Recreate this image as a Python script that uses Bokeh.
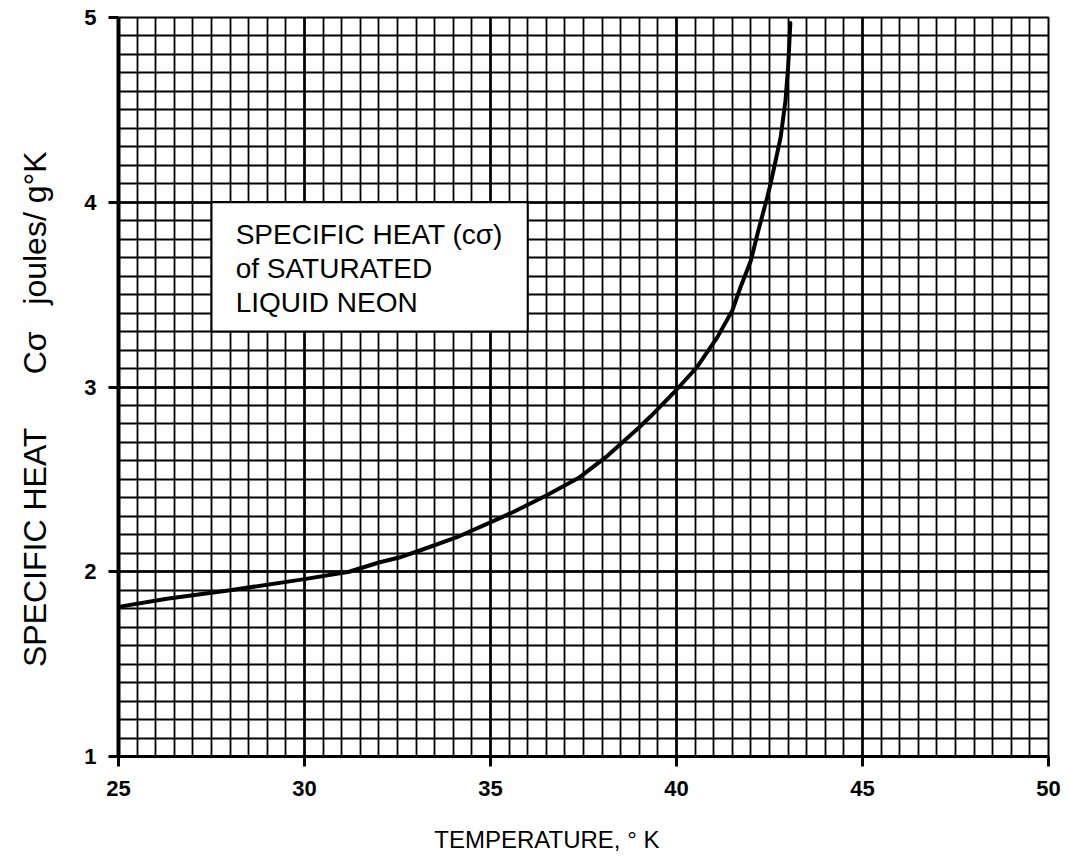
from bokeh.core.properties import value
from bokeh.embed import file_html
from bokeh.models import ColumnDataSource, Range1d, SingleIntervalTicker
from bokeh.plotting import figure
from bokeh.resources import INLINE

# Specific heat of saturated liquid neon, c_sigma (joules / g K) vs temperature (K)
temperature_k = [25.0, 26.3, 28.0, 30.0, 31.2, 32.0, 32.6, 33.1, 34.1, 35.1,
                 35.6, 36.5, 37.4, 38.1, 39.0, 39.3, 40.0, 40.55, 41.1, 41.5,
                 41.72, 42.0, 42.2, 42.44, 42.55, 42.8, 42.93, 43.0, 43.06]
specific_heat = [1.81, 1.854, 1.90, 1.96, 2.00, 2.05, 2.08, 2.115, 2.187, 2.277,
                 2.322, 2.413, 2.512, 2.620, 2.782, 2.84, 2.985, 3.107, 3.270, 3.414,
                 3.540, 3.685, 3.847, 4.027, 4.118, 4.352, 4.551, 4.731, 4.97]

x_limits = [25, 50]
y_limits = [1, 5]

NBSP = "\u00a0"
# trailing no-break spaces nudge the centred axis titles off the axis midpoint
x_title = "TEMPERATURE, \u00b0 K" + NBSP * 11
y_title = ("SPECIFIC HEAT" + NBSP * 6 + "C\u03c3" + NBSP * 3
           + "joules/ g\u00b0K" + NBSP * 5)

note_lines = ["SPECIFIC HEAT (c\u03c3)", "of SATURATED", "LIQUID NEON"]
note_box = dict(left=27.5, right=36.0, bottom=3.3, top=4.0)
note_x = 28.15
note_y = [3.825, 3.641, 3.457]

FONT = "Liberation Sans"

p = figure(
    frame_width=930, frame_height=739,
    x_range=Range1d(*x_limits), y_range=Range1d(*y_limits),
    min_border_left=118, min_border_right=21,
    min_border_top=17, min_border_bottom=105,
    output_backend="svg", toolbar_location=None,
    background_fill_color="white", border_fill_color="white",
)

xticker = SingleIntervalTicker(interval=5, num_minor_ticks=10)
yticker = SingleIntervalTicker(interval=1, num_minor_ticks=10)

# graph-paper grid
for grid, ticker in ((p.xgrid, xticker), (p.ygrid, yticker)):
    grid.ticker = ticker
    grid.grid_line_color = "black"
    grid.grid_line_width = 2.6
    grid.grid_line_alpha = 1.0
    grid.minor_grid_line_color = "black"
    grid.minor_grid_line_width = 1.8
    grid.minor_grid_line_alpha = 1.0

p.outline_line_color = "black"
p.outline_line_width = 2

for axis, ticker in ((p.xaxis, xticker), (p.yaxis, yticker)):
    axis.ticker = ticker
    axis.axis_line_color = "black"
    axis.major_tick_line_color = "black"
    axis.major_tick_line_width = 3
    axis.major_tick_in = 0
    axis.major_tick_out = 10
    axis.minor_tick_in = 0
    axis.minor_tick_out = 0
    axis.major_label_text_font = FONT
    axis.major_label_text_font_style = "bold"
    axis.major_label_text_font_size = "22px"
    axis.major_label_text_color = "black"
    axis.axis_label_text_font = FONT
    axis.axis_label_text_font_style = "normal"
    axis.axis_label_text_color = "black"

p.xaxis.axis_line_width = 3
p.xaxis.major_label_standoff = 14
p.xaxis.axis_label = x_title
p.xaxis.axis_label_text_font_size = "24px"
p.xaxis.axis_label_standoff = 27

p.yaxis.axis_line_width = 4
p.yaxis.major_label_standoff = 12
p.yaxis.axis_label = y_title
p.yaxis.axis_label_text_font_size = "32px"
p.yaxis.axis_label_standoff = 28

# the curve
src = ColumnDataSource(dict(t=temperature_k, c=specific_heat))
p.line("t", "c", source=src, line_color="black", line_width=4,
       line_join="round", line_cap="round")

# caption box on the grid
p.quad(left=[note_box["left"]], right=[note_box["right"]],
       bottom=[note_box["bottom"]], top=[note_box["top"]],
       fill_color="white", line_color="black", line_width=2)
p.text(x=[note_x] * len(note_lines), y=note_y, text=note_lines,
       text_font=value(FONT), text_font_size="28px",
       text_baseline="middle", text_align="left", text_color="black")

open("out.html", "w").write(file_html(p, INLINE))
